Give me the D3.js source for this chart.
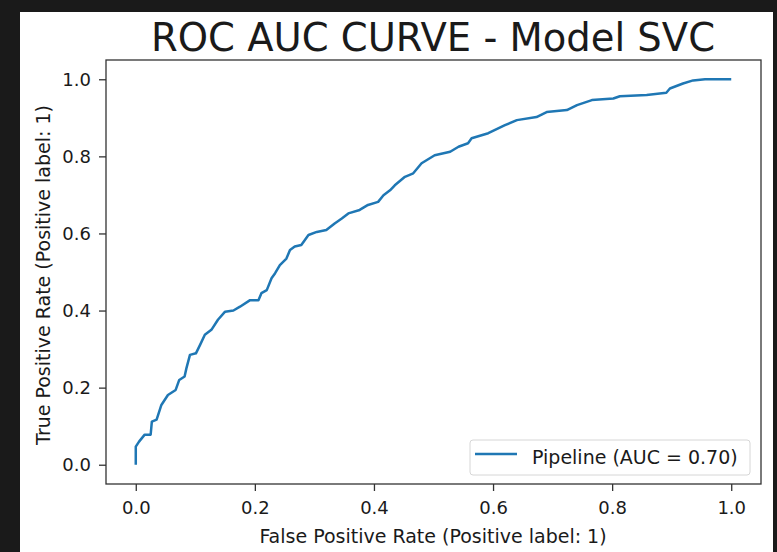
<!DOCTYPE html>
<meta charset="utf-8">
<script src="https://d3js.org/d3.v7.min.js"></script>
<style>
  body { margin: 0; background: #1a1a1a; }
  svg { display: block; }
  text { font-family: "DejaVu Sans", sans-serif; fill: #1a1a1a; }
</style>
<body>
<svg id="chart" width="777" height="552"></svg>
<script>
// ROC points (false positive rate, true positive rate)
const fpr = [0, 0, 0.0055, 0.015, 0.025, 0.027, 0.035, 0.043, 0.054, 0.067, 0.073, 0.082, 0.085,
  0.091, 0.101, 0.108, 0.116, 0.127, 0.138, 0.15, 0.164, 0.175, 0.192, 0.206, 0.211, 0.22,
  0.228, 0.234, 0.242, 0.253, 0.259, 0.267, 0.278, 0.29, 0.304, 0.32, 0.334, 0.346, 0.357,
  0.376, 0.39, 0.407, 0.416, 0.427, 0.435, 0.452, 0.466, 0.48, 0.502, 0.528, 0.542, 0.558,
  0.564, 0.592, 0.62, 0.64, 0.673, 0.69, 0.724, 0.741, 0.766, 0.802, 0.813, 0.858, 0.891,
  0.897, 0.919, 0.936, 0.956, 1.0];
const tpr = [0, 0.047, 0.06, 0.078, 0.078, 0.112, 0.117, 0.155, 0.181, 0.194, 0.22, 0.229, 0.25,
  0.285, 0.289, 0.311, 0.337, 0.35, 0.376, 0.397, 0.40, 0.41, 0.427, 0.427, 0.445, 0.453,
  0.484, 0.497, 0.518, 0.535, 0.557, 0.566, 0.57, 0.596, 0.604, 0.609, 0.626, 0.639, 0.652,
  0.661, 0.674, 0.682, 0.699, 0.712, 0.725, 0.747, 0.756, 0.782, 0.803, 0.812, 0.825, 0.834,
  0.847, 0.86, 0.881, 0.894, 0.902, 0.915, 0.92, 0.933, 0.946, 0.95, 0.956, 0.959, 0.965,
  0.976, 0.989, 0.997, 1.0, 1.0];
const ticks = [0, 0.2, 0.4, 0.6, 0.8, 1.0];
const legendLabel = "Pipeline (AUC = 0.70)";

const svg = d3.select("#chart");

// white figure area
svg.append("rect").attr("x", 20).attr("y", 12).attr("width", 753).attr("height", 540).attr("fill", "#fff");

const plotL = 106, plotR = 761, plotT = 60, plotB = 484;
const x = d3.scaleLinear().domain([-0.05, 1.05]).range([plotL, plotR]);
const y = d3.scaleLinear().domain([-0.05, 1.05]).range([plotB, plotT]);

// axes
svg.append("g")
  .attr("transform", `translate(0,${plotB})`)
  .call(d3.axisBottom(x).tickValues(ticks).tickFormat(d3.format(".1f")).tickSize(7).tickPadding(10))
  .call(g => g.select(".domain").remove())
  .call(g => g.selectAll("line").attr("stroke", "#333").attr("stroke-width", 1.3))
  .call(g => g.selectAll("text").attr("font-size", 18).attr("fill", "#1a1a1a"));

svg.append("g")
  .attr("transform", `translate(${plotL},0)`)
  .call(d3.axisLeft(y).tickValues(ticks).tickFormat(d3.format(".1f")).tickSize(7).tickPadding(8))
  .call(g => g.select(".domain").remove())
  .call(g => g.selectAll("line").attr("stroke", "#333").attr("stroke-width", 1.3))
  .call(g => g.selectAll("text").attr("font-size", 18).attr("fill", "#1a1a1a"));

// curve
const pts = fpr.map((f, i) => [f, tpr[i]]);
svg.append("path")
  .datum(pts)
  .attr("fill", "none")
  .attr("stroke", "#1f77b4")
  .attr("stroke-width", 2.5)
  .attr("stroke-linejoin", "round")
  .attr("d", d3.line().x(d => x(d[0])).y(d => y(d[1])));

// frame
svg.append("rect")
  .attr("x", plotL).attr("y", plotT).attr("width", plotR - plotL).attr("height", plotB - plotT)
  .attr("fill", "none").attr("stroke", "#333").attr("stroke-width", 1.3);

// legend
const lg = svg.append("g").attr("transform", "translate(470,440)");
lg.append("rect").attr("width", 280).attr("height", 35).attr("rx", 3)
  .attr("fill", "#fff").attr("stroke", "#d6d6d6");
lg.append("line").attr("x1", 5).attr("x2", 47).attr("y1", 14).attr("y2", 14)
  .attr("stroke", "#1f77b4").attr("stroke-width", 2.5);
lg.append("text").attr("x", 62).attr("y", 24).attr("font-size", 19).text(legendLabel);

// titles
svg.append("text").attr("x", 433).attr("y", 51).attr("text-anchor", "middle")
  .attr("font-size", 38.5).text("ROC AUC CURVE - Model SVC");
svg.append("text").attr("x", 433).attr("y", 543).attr("text-anchor", "middle")
  .attr("font-size", 19).text("False Positive Rate (Positive label: 1)");
svg.append("text").attr("transform", "translate(50,275) rotate(-90)").attr("text-anchor", "middle")
  .attr("font-size", 19).text("True Positive Rate (Positive label: 1)");
</script>
</body>
